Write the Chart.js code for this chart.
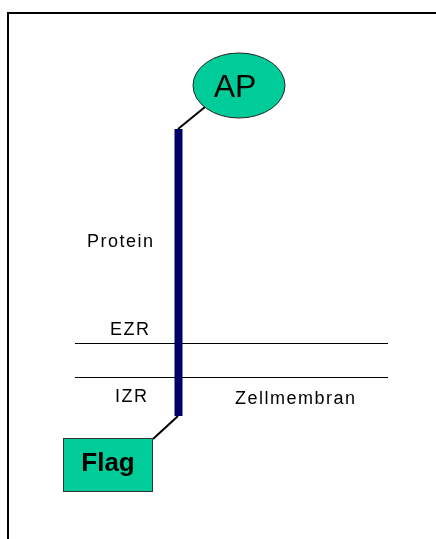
<!DOCTYPE html>
<html>
<head>
<meta charset="utf-8">
<script src="https://cdn.jsdelivr.net/npm/chart.js@4/dist/chart.umd.min.js"></script>
<style>
  html, body { margin: 0; padding: 0; background: #fff; }
  canvas { display: block; }
</style>
</head>
<body>
<canvas id="diagram" width="436" height="539"></canvas>
<script>
// diagram coordinates (x: 0..436, y: 0..539 from top)
const frameX = [8, 8, 436];
const frameY = [539, 13, 13];
const membraneLevels = [343.5, 377.5];
const membraneSpan = [75, 388];
const proteinX = 178.5;
const proteinSpan = [129, 416];
const linkerTopX = [178, 205];
const linkerTopY = [129, 107];
const linkerBottomX = [178, 153];
const linkerBottomY = [416, 439];
const apCenter = [239, 85.5];
const apRadius = [46, 32.5];
const flagBoxX = [63, 153];
const flagBoxY = [438, 492];

const labels = ['Protein', 'EZR', 'IZR', 'Zellmembran'];
const labelX = [87, 110, 115, 235];
const labelY = [247, 335, 402, 404];

const teal = '#00CC99';
const navy = '#000066';

const pts = (xs, ys) => xs.map((x, i) => ({ x: x, y: ys[i] }));

const lineSet = (data, color, width) => ({
    data: data,
    borderColor: color,
    borderWidth: width,
    showLine: true,
    pointRadius: 0,
    fill: false,
    borderCapStyle: 'butt'
});

const datasets = [
    lineSet(pts(linkerTopX, linkerTopY), '#000', 2),
    lineSet(pts(linkerBottomX, linkerBottomY), '#000', 2),
    lineSet(pts([proteinX, proteinX], proteinSpan), navy, 8),
    lineSet(pts(membraneSpan, [membraneLevels[0], membraneLevels[0]]), '#000', 1),
    lineSet(pts(membraneSpan, [membraneLevels[1], membraneLevels[1]]), '#000', 1),
    lineSet(pts(frameX, frameY), '#000', 2)
];

const shapesPlugin = {
    id: 'shapes',
    afterDatasetsDraw(chart) {
        const ctx = chart.ctx;
        const sx = chart.scales.x;
        const sy = chart.scales.y;
        ctx.save();

        // AP ellipse
        const cx = sx.getPixelForValue(apCenter[0]);
        const cy = sy.getPixelForValue(apCenter[1]);
        const rx = sx.getPixelForValue(apCenter[0] + apRadius[0]) - cx;
        const ry = sy.getPixelForValue(apCenter[1] + apRadius[1]) - cy;
        ctx.beginPath();
        ctx.ellipse(cx, cy, Math.abs(rx), Math.abs(ry), 0, 0, Math.PI * 2);
        ctx.fillStyle = teal;
        ctx.fill();
        ctx.lineWidth = 1;
        ctx.strokeStyle = '#222';
        ctx.stroke();

        ctx.fillStyle = '#000';
        ctx.font = '32px "Liberation Sans", Arial, sans-serif';
        ctx.textAlign = 'center';
        ctx.textBaseline = 'alphabetic';
        ctx.fillText('AP', sx.getPixelForValue(235), sy.getPixelForValue(97));

        // Flag box
        const x0 = sx.getPixelForValue(flagBoxX[0]);
        const x1 = sx.getPixelForValue(flagBoxX[1]);
        const y0 = sy.getPixelForValue(flagBoxY[0]);
        const y1 = sy.getPixelForValue(flagBoxY[1]);
        ctx.fillStyle = teal;
        ctx.fillRect(x0, y0, x1 - x0, y1 - y0);
        ctx.strokeStyle = '#333';
        ctx.strokeRect(x0 + 0.5, y0 + 0.5, x1 - x0 - 1, y1 - y0 - 1);

        ctx.fillStyle = '#000';
        ctx.font = 'bold 26px "Liberation Sans", Arial, sans-serif';
        ctx.fillText('Flag', (x0 + x1) / 2, sy.getPixelForValue(471));

        // labels
        ctx.font = '18px "Liberation Sans", Arial, sans-serif';
        ctx.textAlign = 'left';
        ctx.letterSpacing = '1.5px';
        labels.forEach((t, i) => {
            ctx.fillText(t, sx.getPixelForValue(labelX[i]), sy.getPixelForValue(labelY[i]));
        });
        ctx.restore();
    }
};

new Chart(document.getElementById('diagram').getContext('2d'), {
    type: 'scatter',
    data: { datasets: datasets },
    options: {
        responsive: false,
        animation: false,
        layout: { padding: 0 },
        plugins: { legend: { display: false }, tooltip: { enabled: false } },
        scales: {
            x: { type: 'linear', min: 0, max: 436, display: false },
            y: { type: 'linear', min: 0, max: 539, reverse: true, display: false }
        }
    },
    plugins: [shapesPlugin]
});
</script>
</body>
</html>
